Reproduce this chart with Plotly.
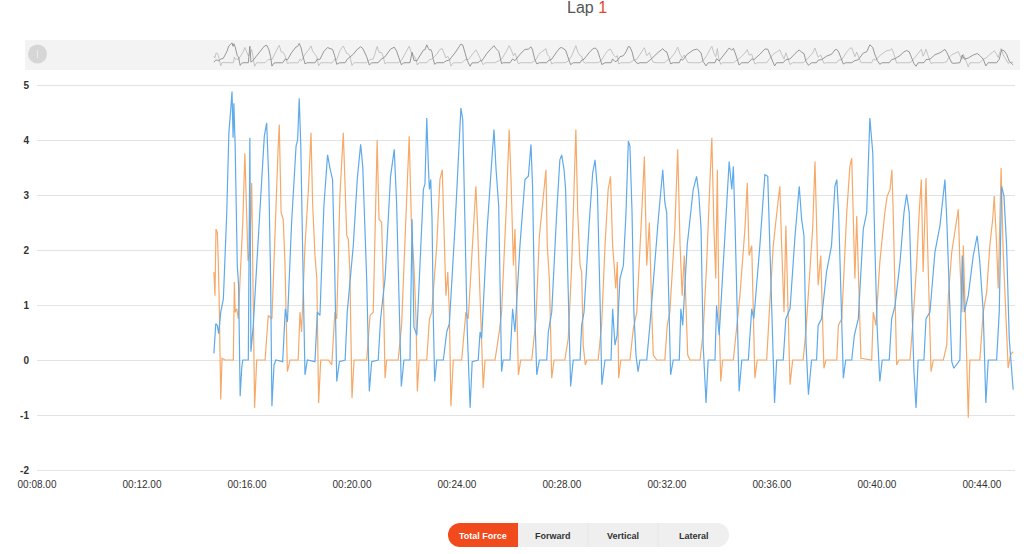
import plotly.graph_objects as go

# ---------------- data (time in seconds, force value) ----------------
left_foot = [  # blue series
    (14.74,0.12),(14.81,0.66),(14.87,0.63),(14.92,0.48),(15.00,0.87),(15.10,1.11),(15.23,2.68),(15.31,4.13),(15.38,4.55),(15.43,4.88),(15.47,4.04),(15.50,4.67),(15.55,3.89),(15.63,1.72),(15.68,1.36),(15.74,-0.66),(15.80,-0.15),(15.84,0),(16.05,0),(16.11,4.04),(16.15,0.15),
    (16.24,0.63),(16.37,1.72),(16.50,2.86),(16.60,3.58),(16.66,4.07),(16.75,4.31),(16.83,3.28),(16.90,1.48),(16.95,-0.84),(17.03,-0.09),(17.10,0),(17.36,-0.03),
    (17.46,0.93),(17.54,0.69),(17.70,2.5),(17.87,3.89),(17.93,4.0),(17.99,4.76),(18.05,3.89),(18.14,1.48),(18.21,-0.27),(18.30,0),(18.59,-0.03),
    (18.68,0.87),(18.78,0.81),(18.93,2.8),(19.07,3.73),(19.16,3.49),(19.26,3.28),(19.34,1.72),(19.42,-0.39),(19.52,-0.03),(19.74,0),
    (19.82,0.87),(20.05,2.08),(20.20,3.28),(20.33,3.92),(20.41,3.52),(20.47,2.68),(20.56,1.48),(20.66,-0.57),(20.75,-0.03),(21.00,0),
    (21.09,0.75),(21.26,1.48),(21.47,3.34),(21.61,3.83),(21.70,2.86),(21.79,1.17),(21.88,-0.48),(21.98,0),(22.21,0),(22.29,2.56),(22.36,0.6),
    (22.47,0.45),(22.59,1.72),(22.72,3.1),(22.78,3.2),(22.85,4.4),(22.91,3.52),(22.95,3.1),(23.00,3.28),(23.05,2.56),(23.10,0.75),(23.15,-0.39),(23.23,0),(23.48,0),
    (23.61,0.51),(23.71,0.66),(23.92,2.38),(24.05,3.52),(24.15,4.58),(24.22,4.37),(24.30,2.68),(24.39,0.57),(24.50,-0.87),(24.58,-0.03),(24.81,0),
    (24.88,0.51),(24.94,0.39),(25.15,2.38),(25.32,3.58),(25.41,4.19),(25.49,3.46),(25.59,2.8),(25.70,-0.21),(25.76,0),(26.02,0),
    (26.12,0.93),(26.21,0.51),(26.40,2.08),(26.59,3.28),(26.72,3.34),(26.82,3.92),(26.88,3.16),(26.96,0.93),(27.04,-0.27),(27.14,0),(27.42,0),
    (27.48,0.51),(27.61,0.87),(27.80,2.68),(27.92,3.64),(27.99,3.73),(28.08,3.46),(28.14,3.1),(28.24,1.17),(28.33,-0.48),(28.43,0),(28.69,0),
    (28.75,0.63),(28.84,0.87),(29.04,2.5),(29.17,3.4),(29.26,3.64),(29.35,3.1),(29.45,1.11),(29.52,-0.45),(29.64,0),(29.87,0),(29.93,0.93),(30.02,0.27),
    (30.10,0.45),(30.21,1.48),(30.34,1.72),(30.44,2.68),(30.53,3.98),(30.59,3.89),(30.67,2.68),(30.74,0.87),(30.82,0.09),(30.90,-0.21),(30.97,0),(31.23,0),
    (31.35,0.63),(31.48,1.48),(31.67,2.56),(31.84,3.46),(31.92,2.86),(31.99,2.68),(32.08,0.87),(32.14,-0.27),(32.24,0),(32.47,0),
    (32.53,0.93),(32.60,0.63),(32.77,2.08),(33.00,3.1),(33.13,3.34),(33.21,3.04),(33.30,2.38),(33.38,0.27),(33.49,-0.78),(33.57,0),(33.83,0),
    (33.89,0.99),(33.99,0.45),(34.21,2.2),(34.37,3.61),(34.47,3.1),(34.53,3.52),(34.60,2.38),(34.68,0.87),(34.75,-0.57),(34.85,0),(35.10,0),
    (35.23,0.93),(35.31,0.75),(35.54,2.08),(35.73,3.37),(35.84,3.34),(35.92,2.08),(36.01,0.27),(36.10,-0.78),(36.18,0),(36.43,0),
    (36.53,0.75),(36.69,0.93),(36.88,2.26),(37.04,3.16),(37.13,2.56),(37.22,2.26),(37.30,0.27),(37.39,-0.63),(37.51,0),(37.70,0),
    (37.76,0.63),(37.89,0.75),(38.08,1.6),(38.27,2.08),(38.40,3.16),(38.47,3.28),(38.54,2.68),(38.62,1.36),(38.72,-0.33),(38.81,0),(39.04,0),
    (39.14,0.45),(39.29,0.75),(39.48,2.38),(39.61,2.68),(39.73,4.4),(39.84,3.77),(39.92,2.08),(40.01,0.57),(40.11,-0.39),(40.20,0),(40.47,0),
    (40.56,0.75),(40.69,0.99),(40.88,1.78),(41.03,2.68),(41.13,3.01),(41.23,2.68),(41.32,1.17),(41.41,-0.21),(41.49,-0.87),(41.57,0),(41.79,0),
    (41.87,0.75),(42.02,0.87),(42.21,1.96),(42.40,2.44),(42.50,2.86),(42.59,3.28),(42.66,2.56),(42.75,1.48),(42.85,-0.03),(42.93,-0.15),(43.16,0),
    (43.25,1.9),(43.33,0.87),(43.48,1.17),(43.67,1.9),(43.82,2.26),(43.92,1.78),(44.05,0.87),(44.15,-0.78),(44.24,0),(44.56,0),
    (44.66,0.87),(44.75,3.16),(44.84,2.98),(44.94,2.08),(45.04,0.39),(45.19,-0.54),
]

right_foot = [  # orange series
    (14.74,1.6),(14.78,1.17),(14.82,2.38),(14.87,2.32),(14.91,1.72),(14.94,1.11),(15.00,-0.72),(15.05,0.03),(15.16,0),(15.48,0),(15.52,1.42),(15.55,0.87),(15.61,0.93),(15.67,0.75),(15.73,1.4),(15.84,2.49),(15.92,3.76),(15.98,2.5),(16.04,1.8),(16.11,2.0),(16.18,3.22),(16.29,-0.87),(16.37,0),(16.69,0),
    (16.81,0.81),(16.95,0.75),(17.07,2.5),(17.19,3.89),(17.23,4.28),(17.30,2.68),(17.38,2.56),(17.45,1.72),(17.54,-0.21),(17.64,0),(17.95,0),
    (18.02,0.87),(18.08,0.51),(18.21,2.08),(18.34,3.1),(18.44,4.13),(18.50,2.86),(18.59,1.9),(18.66,1.48),(18.73,-0.78),(18.81,0),(19.10,0),
    (19.23,-0.09),(19.35,0.87),(19.42,0.75),(19.54,2.98),(19.67,4.13),(19.73,3.28),(19.80,2.26),(19.86,2.2),(19.92,1.6),(20.00,-0.69),(20.08,0),(20.56,0),
    (20.69,0.81),(20.81,0.87),(20.91,2.92),(20.96,4.0),(21.03,2.56),(21.13,2.5),(21.19,1.48),(21.26,-0.33),(21.32,0),(21.76,0),
    (21.89,0.63),(22.02,2.2),(22.10,3.4),(22.18,4.07),(22.27,2.38),(22.36,1.72),(22.44,0.75),(22.49,-0.57),(22.56,0),(22.85,0),
    (22.95,0.75),(23.04,0.87),(23.23,2.08),(23.35,3.28),(23.44,3.46),(23.50,2.38),(23.58,1.17),(23.65,1.6),(23.71,0.87),(23.77,-0.84),(23.86,0),(24.18,0),
    (24.34,0.87),(24.43,0.75),(24.60,2.08),(24.72,3.16),(24.79,2.38),(24.85,1.48),(24.91,0.87),(25.00,-0.51),(25.07,0),(25.45,0),
    (25.61,0.51),(25.70,0.87),(25.87,2.68),(25.99,4.19),(26.06,3.28),(26.15,1.72),(26.21,2.38),(26.27,0.87),(26.34,-0.27),(26.43,0),(26.85,0),
    (27.01,0.75),(27.14,2.26),(27.23,2.68),(27.29,2.98),(27.39,3.46),(27.44,2.08),(27.52,1.48),(27.61,-0.33),(27.70,0),(28.11,0),
    (28.24,0.39),(28.37,1.72),(28.46,3.28),(28.53,4.19),(28.60,2.68),(28.69,1.72),(28.75,1.6),(28.81,0.27),(28.89,-0.09),(28.95,0),(29.38,0),
    (29.51,0.63),(29.64,2.08),(29.76,3.1),(29.85,3.34),(29.93,2.08),(29.98,1.78),(30.05,1.3),(30.11,1.78),(30.16,-0.33),(30.24,0),(30.59,0),
    (30.72,0.57),(30.85,0.87),(31.04,2.68),(31.14,3.7),(31.23,1.72),(31.33,2.5),(31.42,0.87),(31.48,0.09),(31.61,0),(31.92,0),
    (32.01,0.63),(32.11,0.87),(32.30,2.38),(32.41,3.83),(32.50,2.08),(32.58,1.17),(32.66,1.9),(32.72,0.87),(32.79,0.09),(32.88,0),(33.26,0),
    (33.38,0.51),(33.51,1.72),(33.64,3.28),(33.71,4.04),(33.79,2.38),(33.86,1.48),(33.92,3.46),(33.98,0.87),(34.05,-0.39),(34.12,0),(34.53,0),
    (34.65,0.51),(34.78,1.17),(34.97,2.38),(35.06,3.22),(35.13,1.9),(35.23,2.08),(35.29,0.87),(35.35,-0.33),(35.44,0),(35.80,0),
    (35.90,0.87),(36.05,2.08),(36.20,2.74),(36.30,3.16),(36.37,2.08),(36.46,0.87),(36.53,2.44),(36.62,0.87),(36.69,-0.45),(36.79,0),(37.19,0),
    (37.30,0.57),(37.42,1.48),(37.55,2.38),(37.64,3.61),(37.70,2.68),(37.76,1.36),(37.86,1.9),(37.92,0.87),(37.98,-0.15),(38.06,0),(38.47,0),
    (38.53,0.63),(38.66,0.75),(38.85,2.68),(38.97,3.52),(39.04,3.67),(39.10,2.56),(39.16,1.48),(39.23,2.62),(39.31,1.48),(39.39,0.03),(39.80,0),
    (39.86,0.87),(39.96,0.63),(40.11,1.78),(40.30,2.68),(40.39,2.98),(40.50,3.1),(40.57,3.46),(40.62,2.68),(40.69,0.87),(40.75,-0.09),(40.84,0),(41.26,0),
    (41.38,0.75),(41.51,1.72),(41.61,2.68),(41.69,3.28),(41.76,1.6),(41.87,3.31),(41.93,2.08),(41.99,0.87),(42.06,-0.21),(42.15,0),(42.53,0),
    (42.66,0.27),(42.72,1.17),(42.85,1.96),(42.97,2.38),(43.10,2.74),(43.16,1.78),(43.24,0.87),(43.29,2.08),(43.35,0.87),(43.42,0.03),(43.48,-1.05),(43.54,0),(43.92,0),
    (44.05,0.87),(44.18,1.23),(44.30,2.08),(44.41,2.56),(44.47,2.98),(44.56,2.08),(44.62,1.3),(44.69,2.68),(44.73,3.49),(44.81,1.96),(44.91,0.87),(45.00,-0.15),(45.09,0.1),(45.19,0.15),
]

x_tick_values = [8, 12, 16, 20, 24, 28, 32, 36, 40, 44]
x_tick_labels = ["00:08.00", "00:12.00", "00:16.00", "00:20.00", "00:24.00",
                 "00:28.00", "00:32.00", "00:36.00", "00:40.00", "00:44.00"]
y_tick_values = [-2, -1, 0, 1, 2, 3, 4, 5]
y_tick_labels = ["-2", "-1", "0", "1", "2", "3", "4", "5"]
x_range = [8, 45.26]
y_range = [-2.03, 5.03]
button_labels = ["Total Force", "Forward", "Vertical", "Lateral"]
title_text = "Lap"
lap_number = "1"

# ---------------- helpers (pixel -> paper) ----------------
W, H = 1024, 554
def fx(p):
    return p / W
def fy(p):
    return 1 - p / H

lt = [p[0] for p in left_foot]; lv = [p[1] for p in left_foot]
rt = [p[0] for p in right_foot]; rv = [p[1] for p in right_foot]

BLUE = "#5eaaea"
ORANGE = "#f6a968"

fig = go.Figure()
# main chart
fig.add_trace(go.Scatter(x=rt, y=rv, mode="lines", line=dict(color=ORANGE, width=1.2),
                         xaxis="x", yaxis="y", hoverinfo="skip", showlegend=False))
fig.add_trace(go.Scatter(x=lt, y=lv, mode="lines", line=dict(color=BLUE, width=1.2),
                         xaxis="x", yaxis="y", hoverinfo="skip", showlegend=False))
# navigator mini chart
fig.add_trace(go.Scatter(x=rt, y=rv, mode="lines", line=dict(color="#b8b8b8", width=0.8),
                         xaxis="x2", yaxis="y2", hoverinfo="skip", showlegend=False))
fig.add_trace(go.Scatter(x=lt, y=lv, mode="lines", line=dict(color="#808080", width=0.8),
                         xaxis="x2", yaxis="y2", hoverinfo="skip", showlegend=False))

font_main = "Liberation Sans, Arial, sans-serif"

shapes = []
# navigator background + handle
shapes.append(dict(type="rect", xref="paper", yref="paper", x0=fx(25), x1=fx(1020),
                   y0=fy(70), y1=fy(40), fillcolor="#f3f3f3", line=dict(width=0), layer="below"))
shapes.append(dict(type="circle", xref="paper", yref="paper", x0=fx(28), x1=fx(47),
                   y0=fy(63.5), y1=fy(44.5), fillcolor="#d6d6d6", line=dict(width=0)))
shapes.append(dict(type="line", xref="paper", yref="paper", x0=fx(37.5), x1=fx(37.5),
                   y0=fy(58), y1=fy(50), line=dict(color="#ececec", width=1)))

# button group
bt, bb = 523, 547
shapes.append(dict(type="circle", xref="paper", yref="paper", x0=fx(705), x1=fx(729),
                   y0=fy(bb), y1=fy(bt), fillcolor="#efefef", line=dict(width=0)))
shapes.append(dict(type="rect", xref="paper", yref="paper", x0=fx(500), x1=fx(717),
                   y0=fy(bb), y1=fy(bt), fillcolor="#efefef", line=dict(width=0)))
shapes.append(dict(type="circle", xref="paper", yref="paper", x0=fx(448), x1=fx(472),
                   y0=fy(bb), y1=fy(bt), fillcolor="#f14a1c", line=dict(width=0)))
shapes.append(dict(type="rect", xref="paper", yref="paper", x0=fx(460), x1=fx(518),
                   y0=fy(bb), y1=fy(bt), fillcolor="#f14a1c", line=dict(width=0)))
for xd in (588, 658):
    shapes.append(dict(type="line", xref="paper", yref="paper", x0=fx(xd), x1=fx(xd),
                       y0=fy(bb), y1=fy(bt), line=dict(color="#e6e6e6", width=1)))

annotations = []
annotations.append(dict(xref="paper", yref="paper", x=fx(587), y=fy(8), xanchor="center", yanchor="middle",
                        text=f"{title_text} <span style='color:#e8432d'>{lap_number}</span>",
                        showarrow=False, font=dict(family=font_main, size=16, color="#555555")))
btn_centers = [483, 553, 623, 694]
for lab, cx in zip(button_labels, btn_centers):
    annotations.append(dict(xref="paper", yref="paper", x=fx(cx), y=fy(535.5), xanchor="center",
                            yanchor="middle", text=f"<b>{lab}</b>", showarrow=False,
                            font=dict(family=font_main, size=9,
                                      color="#ffffff" if lab == "Total Force" else "#333333")))

px_per_unit = 55.0
pad = (y_range[1] - 5) * px_per_unit

fig.update_layout(
    width=W, height=H, autosize=False,
    margin=dict(l=0, r=0, t=0, b=0, pad=0, autoexpand=False),
    paper_bgcolor="white", plot_bgcolor="white",
    showlegend=False,
    xaxis=dict(domain=[fx(37), fx(1015)], range=x_range, tickmode="array",
               tickvals=x_tick_values, ticktext=x_tick_labels, showgrid=False,
               zeroline=False, showline=False, ticks="outside", ticklen=3,
               tickcolor="rgba(0,0,0,0)", anchor="y", automargin=False,
               tickfont=dict(family=font_main, size=10, color="#333333")),
    yaxis=dict(domain=[fy(470 + pad), fy(85 - pad)], range=y_range, tickmode="array",
               tickvals=y_tick_values, ticktext=y_tick_labels, showgrid=True,
               gridcolor="#e3e3e3", gridwidth=1,
               zeroline=True, zerolinecolor="#e3e3e3", zerolinewidth=1, showline=False,
               ticklabelstandoff=7, anchor="x", automargin=False,
               tickfont=dict(family=font_main, size=10, color="#333333", weight="bold")),
    xaxis2=dict(domain=[fx(37), fx(1015)], range=x_range, visible=False, anchor="y2",
                automargin=False),
    yaxis2=dict(domain=[fy(68), fy(42)], range=[-1.3, 5.1], visible=False, anchor="x2",
                automargin=False),
    shapes=shapes,
    annotations=annotations,
)

fig.write_html("out.html", config={"displayModeBar": False},
               post_script="document.body.style.margin='0px';")
